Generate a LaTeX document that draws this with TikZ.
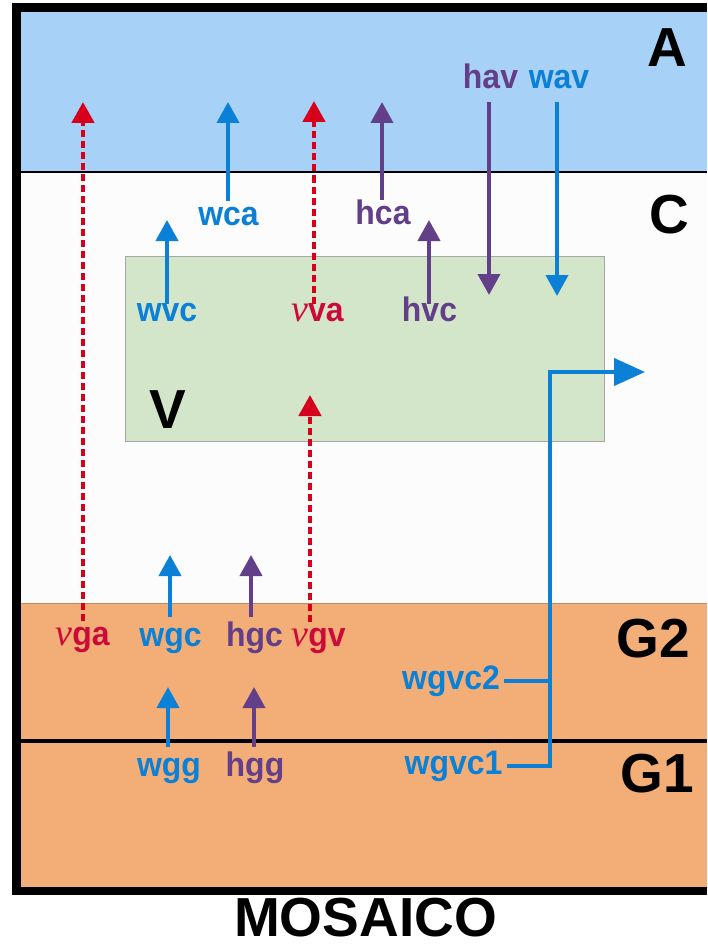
\documentclass[tikz,border=0pt]{standalone}
\usepackage{fontspec}
\setmainfont{Liberation Sans}
\newfontfamily\labfont[FakeStretch=0.94]{Liberation Sans}
\newfontfamily\nufont{Liberation Serif}
\usepackage{tikz}
\usetikzlibrary{
  arrows.meta,%
  calc,%
  positioning
}
\tikzset{>={Triangle[length=21pt,width=22pt]}}
\definecolor{skyblue}{HTML}{A7D1F6}
\definecolor{sand}{HTML}{F2AE76}
\definecolor{leaf}{HTML}{D4E6CA}
\definecolor{wblue}{HTML}{0A80D6}
\definecolor{hpurple}{HTML}{623F88}
\definecolor{nured}{HTML}{D7001C}
\definecolor{nulab}{HTML}{CC0A3A}
\newcommand{\nusym}{{\nufont\itshape\mdseries\fontsize{38}{40}\selectfont ν}}
\tikzset{
  lab/.style={font=\labfont\bfseries\fontsize{34}{36}\selectfont, inner sep=0pt,
    text height=24pt, text depth=7pt, anchor=base},
  layer/.style={font=\bfseries\fontsize{55}{60}\selectfont, inner sep=0pt, anchor=base},
  warrow/.style={wblue, line width=4pt, ->},
  harrow/.style={hpurple, line width=4pt, ->},
  nuarrow/.style={nured, line width=4.5pt, dash pattern=on 7pt off 4pt, ->},
  vbox/.style={fill=leaf, draw=black!35, line width=1pt, minimum width=479pt,
    minimum height=185pt, inner sep=0pt},
}

\begin{document}
\begin{tikzpicture}[x=1pt, y=-1pt]
  \useasboundingbox (0,0) rectangle (707,944);%
  % layers
  \fill[skyblue] (21,12) rectangle (707,172);%
  \fill[black!1] (21,172) rectangle (707,603);%
  \fill[sand] (21,603) rectangle (707,887);%
  \draw[line width=1.5pt] (21,172) -- (707,172);%
  \draw[sand!80!black, line width=0.8pt] (21,603) -- (707,603);%
  \draw[line width=4pt] (21,741) -- (707,741);%
  \fill (12,3) rectangle (707,12);%
  \fill (12,3) rectangle (21,895);%
  \fill (12,887) rectangle (707,895);%
  \node[vbox] (vbox) at (364.5,348.5) {};%
  % layer names
  \node[layer] (A) at (667,67) {A};%
  \node[layer] (C) at (669.5,233) {C};%
  \node[layer] (V) at (168,428) {V};%
  \node[layer] (G2) at (653.5,657) {G2};%
  \node[layer] (G1) at (657,792) {G1};%
  \node[layer] (mosaico) at (365.5,936) {MOSAICO};%
  % flux labels
  \node[lab, wblue] (wca) at (228.5,225) {wca};%
  \node[lab, hpurple] (hca) at (383,224) {hca};%
  \node[lab, hpurple] (hav) at (490.5,89) {hav};%
  \node[lab, wblue] (wav) at (559,89) {wav};%
  \node[lab, wblue] (wvc) at (167,321.7) {wvc};%
  \node[lab, nulab] (nuva) at (317.5,321.7) {\nusym va};%
  \node[lab, hpurple] (hvc) at (429.5,321.7) {hvc};%
  \node[lab, nulab] (nuga) at (82.5,645) {\nusym ga};%
  \node[lab, wblue] (wgc) at (170.5,646) {wgc};%
  \node[lab, hpurple] (hgc) at (254.5,646) {hgc};%
  \node[lab, nulab] (nugv) at (318.5,646) {\nusym gv};%
  \node[lab, wblue] (wgg) at (169,776) {wgg};%
  \node[lab, hpurple] (hgg) at (255,776) {hgg};%
  \node[lab, wblue] (wgvctwo) at (451,689) {wgvc2};%
  \node[lab, wblue] (wgvcone) at (453.5,774) {wgvc1};%
  % arrow ends
  \coordinate (nuga tip) at (83,102);%
  \coordinate (wca tip) at (228,102);%
  \coordinate (nuva tip) at (314,101);%
  \coordinate (hca tip) at (382,102);%
  \coordinate (hav tip) at (489,295);%
  \coordinate (wav tip) at (557,296);%
  \coordinate (wvc tip) at (167,220);%
  \coordinate (hvc tip) at (429,220);%
  \coordinate (nugv tip) at (310,395);%
  \coordinate (wgc tip) at (170,555);%
  \coordinate (hgc tip) at (251,555);%
  \coordinate (wgg tip) at (168,687);%
  \coordinate (hgg tip) at (254,687);%
  \coordinate (gv turn) at (550,372);%
  \coordinate (gv tip) at (645,372);%
  % fluxes
  \draw[nuarrow] (nuga tip |- nuga.north) -- (nuga tip);%
  \draw[warrow] (wca tip |- wca.north) -- (wca tip);%
  \draw[nuarrow, shorten <=-6pt] (nuva tip |- nuva.north) -- (nuva tip);%
  \draw[harrow] (hca tip |- hca.north) -- (hca tip);%
  \draw[harrow, shorten <=6pt] (hav tip |- hav.south) -- (hav tip);%
  \draw[warrow, shorten <=6pt] (wav tip |- wav.south) -- (wav tip);%
  \draw[warrow, shorten <=-6pt] (wvc tip |- wvc.north) -- (wvc tip);%
  \draw[harrow, shorten <=-6pt] (hvc tip |- hvc.north) -- (hvc tip);%
  \draw[nuarrow] (nugv tip |- nugv.north) -- (nugv tip);%
  \draw[warrow, shorten <=5pt] (wgc tip |- wgc.north) -- (wgc tip);%
  \draw[harrow, shorten <=5pt] (hgc tip |- hgc.north) -- (hgc tip);%
  \draw[warrow, shorten <=5pt] (wgg tip |- wgg.north) -- (wgg tip);%
  \draw[harrow, shorten <=5pt] (hgg tip |- hgg.north) -- (hgg tip);%
  \draw[wblue, line width=4pt, -{Triangle[length=31pt,width=27pt]}, shorten <=4pt]
    (wgvcone.east) -| (gv turn) -- (gv tip);%
  \draw[wblue, line width=4pt, shorten <=4pt] (wgvctwo.east) -- (wgvctwo.east -| gv turn);%
\end{tikzpicture}
\end{document}
